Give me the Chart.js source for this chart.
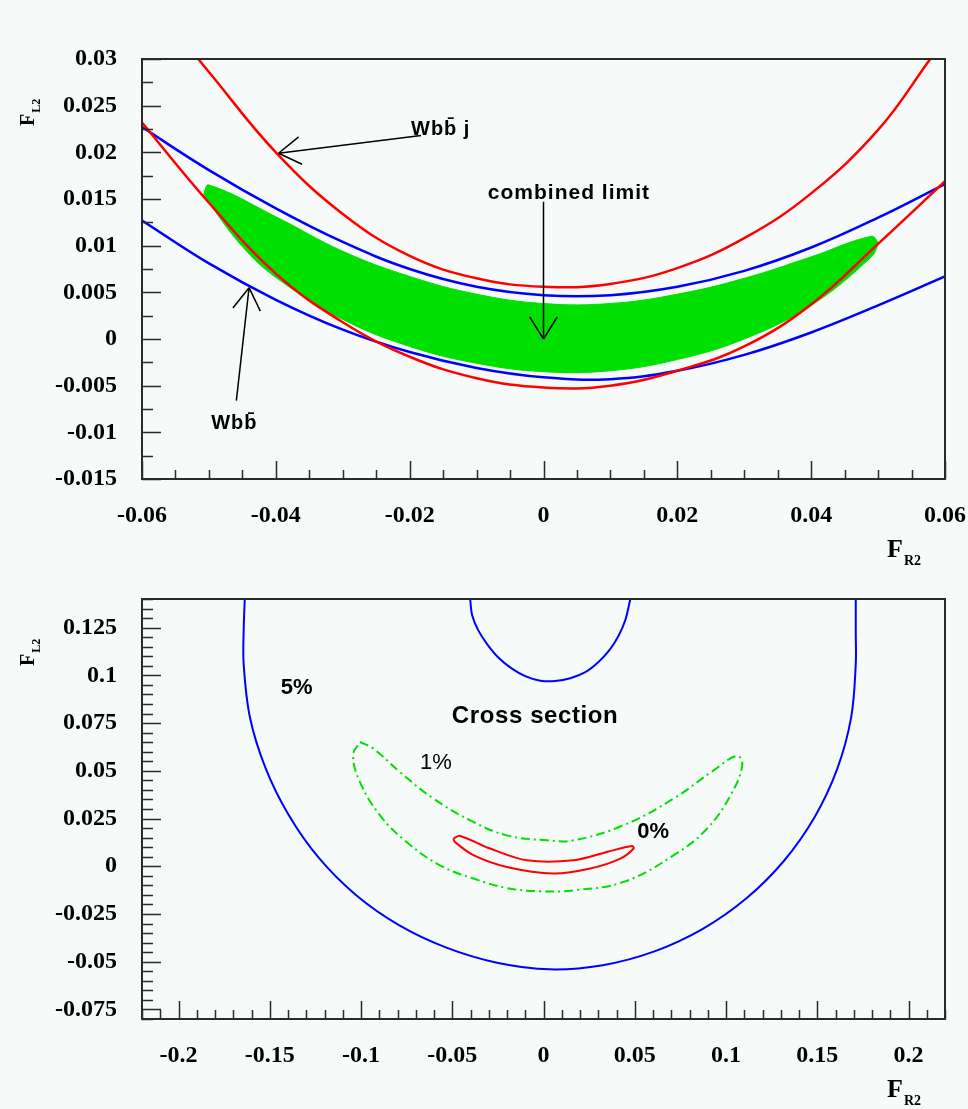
<!DOCTYPE html>
<html>
<head>
<meta charset="utf-8">
<script src="https://cdn.jsdelivr.net/npm/chart.js@4.4.1/dist/chart.umd.min.js"></script>
<style>
  html, body { margin: 0; padding: 0; background: #f6faf8; }
  #wrap { position: relative; width: 968px; height: 1109px; background: #f6faf8; overflow: hidden; }
  canvas { position: absolute; left: 0; }
  #c-top { top: 0; }
  #c-bot { top: 560px; }
  .ttl { position: absolute; font: bold 26px 'Liberation Serif', serif; color: #000; line-height: 1; white-space: nowrap; }
  .ttl sub { font-size: 14px; vertical-align: baseline; position: relative; top: 8px; margin-left: 1px; }
  .rot { font-size: 20px; transform: rotate(-90deg); transform-origin: left top; }
  .rot sub { font-size: 12px; top: 6px; }
</style>
</head>
<body>
<div id="wrap">
  <canvas id="c-top" width="968" height="560" style="width:968px;height:560px"></canvas>
  <canvas id="c-bot" width="968" height="549" style="width:968px;height:549px"></canvas>
  <div class="ttl" style="left:887px;top:536px">F<sub>R2</sub></div>
  <div class="ttl rot" style="left:17px;top:126px">F<sub>L2</sub></div>
  <div class="ttl" style="left:887px;top:1076px">F<sub>R2</sub></div>
  <div class="ttl rot" style="left:17px;top:666px">F<sub>L2</sub></div>
</div>

<script>
/* ─── Top panel: limit curves in the (F_R2, F_L2) plane ─── */
const wbbjUpper = [[-0.0516,0.0300],[-0.05,0.0286],[-0.04,0.0200],[-0.03,0.0134],[-0.02,0.0089],
  [-0.01,0.0065],[0,0.0056],[0.01,0.0059],[0.02,0.0076],[0.03,0.0108],[0.04,0.0156],[0.05,0.0224],
  [0.0578,0.0300]];
const wbbjLower = [[-0.06,0.0232],[-0.05,0.0146],[-0.04,0.0070],[-0.03,0.0018],[-0.02,-0.0019],
  [-0.01,-0.0042],[0,-0.0052],[0.01,-0.0050],[0.02,-0.0034],[0.03,-0.0008],[0.04,0.0037],[0.05,0.0102],
  [0.06,0.0169]];
const wbbUpper = [[-0.06,0.0227],[-0.05,0.0181],[-0.04,0.0140],[-0.03,0.0104],[-0.02,0.0075],
  [-0.01,0.0056],[0,0.0047],[0.01,0.0047],[0.02,0.0056],[0.03,0.0073],[0.04,0.0098],[0.05,0.0130],
  [0.06,0.0166]];
const wbbLower = [[-0.06,0.0127],[-0.05,0.0081],[-0.04,0.0042],[-0.03,0.0010],[-0.02,-0.0014],
  [-0.01,-0.0031],[0,-0.0041],[0.01,-0.0043],[0.02,-0.0034],[0.03,-0.0017],[0.04,0.0007],[0.05,0.0036],
  [0.06,0.0067]];
const combUpper = [[-0.0508,0.0155],[-0.0500,0.0165],[-0.04,0.0131],[-0.03,0.0094],[-0.02,0.0067],
  [-0.01,0.0048],[0,0.0038],[0.01,0.0038],[0.02,0.0048],[0.03,0.0065],[0.04,0.0088],[0.049,0.0110],
  [0.0501,0.0103]];
const combLower = [[-0.0508,0.0155],[-0.0500,0.0146],[-0.045,0.0099],[-0.04,0.0066],[-0.03,0.0021],
  [-0.02,-0.0008],[-0.01,-0.0026],[0,-0.0035],[0.01,-0.0034],[0.02,-0.0022],[0.03,0.0000],[0.04,0.0036],
  [0.049,0.0088],[0.0501,0.0103]];

const topArrows = [
  { from: [-0.0183, 0.0218], to: [-0.0396, 0.0199] },
  { from: [0.0000, 0.0147],  to: [0.0000, 0.0000] },
  { from: [-0.0459, -0.0066], to: [-0.0440, 0.0055] },
];
const topLabels = [
  { text: 'Wbb\u0304 j',     at: [-0.0198, 0.0225], align: 'left',   font: 'bold 20px "Liberation Sans", sans-serif', spacing: '1px' },
  { text: 'combined limit', at: [0.0038, 0.0156],  align: 'center', font: 'bold 21px "Liberation Sans", sans-serif', spacing: '1px' },
  { text: 'Wbb\u0304',       at: [-0.0462, -0.0091], align: 'center', font: 'bold 20px "Liberation Sans", sans-serif', spacing: '1px' },
];

/* ─── Bottom panel: cross-section contours ─── */
const xs5Outer = [[-0.1637,0.1400],[-0.1643,0.1232],[-0.1643,0.1059],[-0.1609,0.0782],[-0.1524,0.0517],
  [-0.1397,0.0270],[-0.1232,0.0045],[-0.1028,-0.0150],[-0.0792,-0.0308],[-0.0532,-0.0426],[-0.0255,-0.0505],
  [0.0034,-0.0540],[0.0325,-0.0518],[0.0608,-0.0446],[0.0873,-0.0328],[0.1112,-0.0168],[0.1318,0.0029],
  [0.1486,0.0258],[0.1610,0.0511],[0.1686,0.0781],[0.1711,0.1059],[0.1711,0.1226],[0.1711,0.1400]];
const xs5Inner = [[-0.0402,0.1400],[-0.0391,0.1315],[-0.0358,0.1237],[-0.0309,0.1164],[-0.0249,0.1095],
  [-0.0177,0.1038],[-0.0100,0.0996],[-0.0018,0.0972],[0.0064,0.0970],[0.0147,0.0985],[0.0229,0.1017],
  [0.0300,0.1069],[0.0361,0.1132],[0.0410,0.1205],[0.0448,0.1289],[0.0476,0.1400]];
const xs1 = [[-0.1006,0.0651],[-0.0933,0.0617],[-0.0787,0.0494],[-0.0604,0.0355],[-0.0384,0.0232],
  [-0.0201,0.0162],[0.0019,0.0136],[0.0165,0.0136],[0.0439,0.0215],[0.0714,0.0355],[0.0933,0.0503],
  [0.1061,0.0578],[0.1089,0.0529],[0.1025,0.0372],[0.0897,0.0198],[0.0714,0.0058],[0.0439,-0.0082],
  [0.0165,-0.0126],[-0.0018,-0.0131],[-0.0201,-0.0114],[-0.0384,-0.0064],[-0.0567,0.0005],[-0.0750,0.0127],
  [-0.0896,0.0267],[-0.1006,0.0442],[-0.1043,0.0582],[-0.1006,0.0651]];
const xs0 = [[-0.0494,0.0145],[-0.0457,0.0159],[-0.0293,0.0093],[-0.0091,0.0031],[0.0165,0.0031],
  [0.0348,0.0075],[0.0485,0.0106],[0.0494,0.0093],[0.0421,0.0040],[0.0256,-0.0012],[0.0055,-0.0038],
  [-0.0201,-0.0004],[-0.0384,0.0058],[-0.0485,0.0127],[-0.0494,0.0145]];

const botLabels = [
  { text: '5%',            at: [-0.1352, 0.0933], align: 'center', font: 'bold 22px "Liberation Sans", sans-serif', spacing: '0px' },
  { text: 'Cross section', at: [-0.0046, 0.0786], align: 'center', font: 'bold 24px "Liberation Sans", sans-serif', spacing: '0.6px' },
  { text: '1%',            at: [-0.0589, 0.0540], align: 'center', font: '22px "Liberation Sans", sans-serif', spacing: '0px' },
  { text: '0%',            at: [0.0601, 0.0178],  align: 'center', font: 'bold 22px "Liberation Sans", sans-serif', spacing: '0px' },
];

const pts = arr => arr.map(([x, y]) => ({ x, y }));
const fmt = v => { const r = Math.round(v * 1e4) / 1e4; return r === 0 ? '0' : String(r); };

/* ─── frame + inward ROOT-style ticks ─── */
function framePlugin(xMinor, xRatio, yMinor, yRatio) {
  return {
    id: 'frame',
    afterDatasetsDraw(chart) {
      const { ctx, chartArea: a, scales: { x, y } } = chart;
      ctx.save();
      ctx.strokeStyle = '#2a2a2a';
      ctx.lineWidth = 1.5;
      ctx.beginPath();
      for (let k = Math.ceil(x.min / xMinor - 1e-6); k <= Math.floor(x.max / xMinor + 1e-6); k++) {
        const px = Math.round(x.getPixelForValue(k * xMinor)) + 0.5;
        const len = k % xRatio === 0 ? 18 : 9;
        ctx.moveTo(px, a.bottom); ctx.lineTo(px, a.bottom - len);
      }
      for (let k = Math.ceil(y.min / yMinor - 1e-6); k <= Math.floor(y.max / yMinor + 1e-6); k++) {
        const py = Math.round(y.getPixelForValue(k * yMinor)) + 0.5;
        const len = k % yRatio === 0 ? 19 : 11;
        ctx.moveTo(a.left, py); ctx.lineTo(a.left + len, py);
      }
      ctx.stroke();
      ctx.lineWidth = 2;
      ctx.strokeRect(a.left, a.top, a.right - a.left, a.bottom - a.top);
      ctx.restore();
    }
  };
}

function notesPlugin(arrows, labels) {
  return {
    id: 'notes',
    afterDatasetsDraw(chart) {
      const { ctx, scales: { x, y } } = chart;
      ctx.save();
      ctx.strokeStyle = '#000';
      ctx.fillStyle = '#000';
      ctx.lineWidth = 1.5;
      arrows.forEach(a => {
        const x0 = x.getPixelForValue(a.from[0]), y0 = y.getPixelForValue(a.from[1]);
        const x1 = x.getPixelForValue(a.to[0]),   y1 = y.getPixelForValue(a.to[1]);
        const ang = Math.atan2(y1 - y0, x1 - x0);
        ctx.beginPath();
        ctx.moveTo(x0, y0); ctx.lineTo(x1, y1);
        [-1, 1].forEach(s => {
          ctx.moveTo(x1, y1);
          ctx.lineTo(x1 - 26 * Math.cos(ang + s * 0.56), y1 - 26 * Math.sin(ang + s * 0.56));
        });
        ctx.stroke();
      });
      labels.forEach(l => {
        ctx.font = l.font;
        ctx.letterSpacing = l.spacing;
        ctx.textAlign = l.align;
        ctx.textBaseline = 'middle';
        ctx.fillText(l.text, x.getPixelForValue(l.at[0]), y.getPixelForValue(l.at[1]));
      });
      ctx.restore();
    }
  };
}

function line(data, color, width, extra = {}) {
  return Object.assign({ data: pts(data), borderColor: color, borderWidth: width, pointRadius: 0,
    tension: 0.4, fill: false }, extra);
}

function tickFont() {
  return { family: "'Liberation Serif', serif", weight: 'bold', size: 24 };
}

function scales(xr, xStep, yr, yStep, xH) {
  return {
    x: {
      type: 'linear', min: xr[0], max: xr[1],
      grid: { display: false, drawTicks: false }, border: { display: false },
      ticks: { stepSize: xStep, includeBounds: false, autoSkip: false, maxRotation: 0,
               color: '#000', font: tickFont(), padding: 22, callback: fmt },
      afterFit: s => { s.height = xH; s.paddingLeft = 0; s.paddingRight = 0; },
    },
    y: {
      type: 'linear', min: yr[0], max: yr[1],
      grid: { display: false, drawTicks: false }, border: { display: false },
      ticks: { stepSize: yStep, includeBounds: false, autoSkip: false,
               color: '#000', font: tickFont(), padding: 25, callback: fmt },
      afterFit: s => { s.width = 142; s.paddingTop = 0; s.paddingBottom = 0; },
    },
  };
}

const common = {
  responsive: false, animation: false, events: [],
  plugins: { legend: { display: false }, tooltip: { enabled: false } },
};

new Chart(document.getElementById('c-top'), {
  type: 'line',
  data: {
    datasets: [
      line(wbbjUpper, '#ff0000', 2.5),
      line(wbbjLower, '#ff0000', 2.5),
      line(wbbUpper,  '#0000ff', 2.5),
      line(wbbLower,  '#0000ff', 2.5),
      line(combUpper, '#00e000', 1, { fill: '+1', backgroundColor: '#00e000', order: 1 }),
      line(combLower, '#00e000', 1, { order: 1 }),
    ]
  },
  options: Object.assign({}, common, {
    layout: { padding: { left: 0, right: 23, top: 59, bottom: 0 } },
    scales: scales([-0.06, 0.06], 0.02, [-0.015, 0.03], 0.005, 81),
  }),
  plugins: [framePlugin(0.005, 4, 0.0025, 2), notesPlugin(topArrows, topLabels)],
});

new Chart(document.getElementById('c-bot'), {
  type: 'line',
  data: {
    datasets: [
      line(xs5Outer, '#0000ff', 2, { tension: 0.35 }),
      line(xs5Inner, '#0000ff', 2, { tension: 0.3 }),
      line(xs1, '#00e000', 2, { borderDash: [9, 4, 2, 4] }),
      line(xs0, '#ff0000', 2, { tension: 0.3 }),
    ]
  },
  options: Object.assign({}, common, {
    layout: { padding: { left: 0, right: 23, top: 39, bottom: 0 } },
    scales: scales([-0.22, 0.22], 0.05, [-0.08, 0.14], 0.025, 90),
  }),
  plugins: [framePlugin(0.01, 5, 0.005, 5), notesPlugin([], botLabels)],
});
</script>
</body>
</html>
